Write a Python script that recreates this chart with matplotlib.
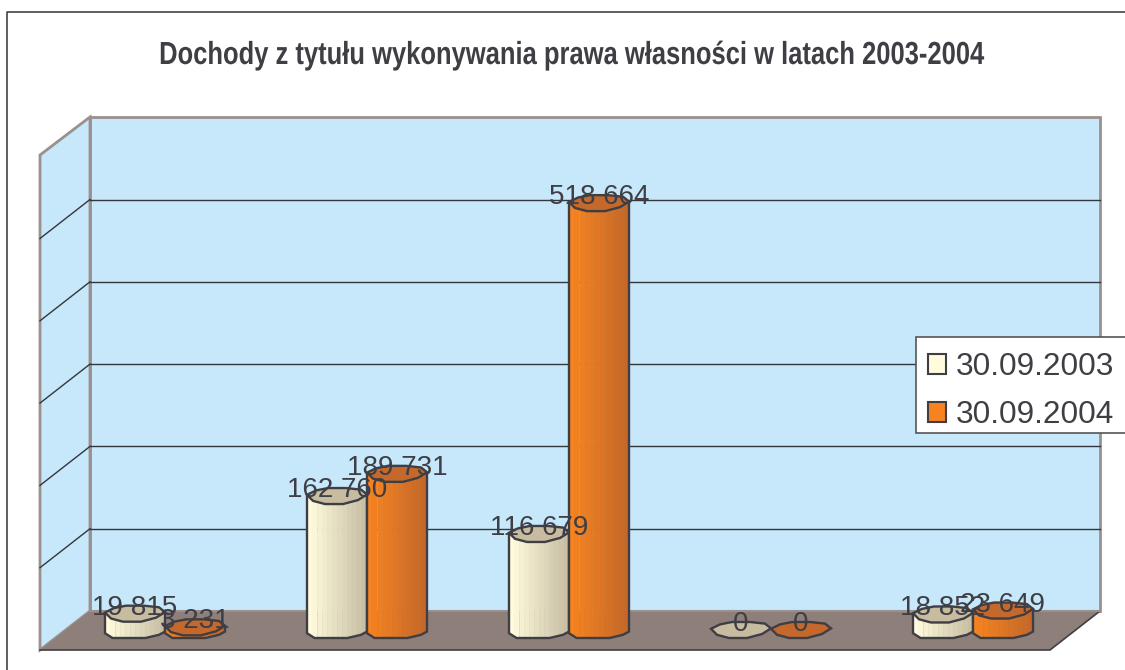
import numpy as np
import matplotlib
matplotlib.use('Agg')
import matplotlib.pyplot as plt
import matplotlib.patches as mpatches
import matplotlib.patheffects as pe
from matplotlib.transforms import Affine2D

title = 'Dochody z tytułu wykonywania prawa własności w latach 2003-2004'
series_names = ['30.09.2003', '30.09.2004']
values_2003 = [19815, 162760, 116679, 0, 18852]
values_2004 = [3231, 189731, 518664, 0, 23649]
labels_2003 = ['19 815', '162 760', '116 679', '0', '18 852']
labels_2004 = ['3 231', '189 731', '518 664', '0', '23 649']
grid_values = [100000, 200000, 300000, 400000, 500000]

# pixel layout of the fake 3d box
CAT_PX = 202.0
X0_PX = 165.0
Y0_PX = 630.0
PX_PER_UNIT = 0.000823
BAR_HALF = 30 / CAT_PX
ELL_H = 8 / PX_PER_UNIT

WALL = '#C6E8FA'
FLOOR = '#8E7F7B'
EDGE = '#9A908D'
INK = '#3E3E44'

# outline of the low-poly cylinders, unit coordinates
TOP_U = [-1, -0.8, -0.4, 0.2, 0.7, 1, 0.8, 0.3, -0.3, -0.7]
TOP_V = [0.15, -0.6, -1, -1, -0.5, 0.2, 0.8, 1, 1, 0.7]
BASE_U = [-1, -0.75, 0.35, 0.8, 1]
BASE_V = [-0.4, -1, -1, -0.6, -0.2]


def px_x(p):
    return (p - X0_PX) / CAT_PX


def px_y(p):
    return (Y0_PX - p) / PX_PER_UNIT


def poly(ax, pts, **kw):
    xy = [(px_x(a), px_y(b)) for a, b in pts]
    ax.add_patch(mpatches.Polygon(xy, closed=True, **kw))


def mix(c1, c2, t):
    a = np.array(matplotlib.colors.to_rgb(c1))
    b = np.array(matplotlib.colors.to_rgb(c2))
    return tuple(a + (b - a) * t)


class Squeeze(pe.AbstractPathEffect):
    # narrows the title, the original font is a condensed one
    def __init__(self, cx, fx):
        super().__init__()
        self.cx = cx
        self.fx = fx

    def draw_path(self, renderer, gc, tpath, affine, rgbFace=None):
        t = affine + Affine2D().translate(-self.cx, 0).scale(self.fx, 1).translate(self.cx, 0)
        renderer.draw_path(gc, tpath, t, rgbFace)


def cylinder(ax, xc, val, light, dark, top, z):
    n = 12
    u = np.linspace(-1, 1, n + 1)
    low = np.interp(u, BASE_U, BASE_V)
    xs = xc + u * BAR_HALF
    if val > 0:
        for i in range(n):
            col = mix(light, dark, i / (n - 1))
            q = [(xs[i], val), (xs[i + 1], val),
                 (xs[i + 1], low[i + 1] * ELL_H), (xs[i], low[i] * ELL_H)]
            ax.add_patch(mpatches.Polygon(q, closed=True, facecolor=col,
                                          edgecolor=col, lw=0.4, zorder=z))
        body_x = [xc - BAR_HALF] + [xc + a * BAR_HALF for a in BASE_U] + [xc + BAR_HALF]
        body_y = [val] + [b * ELL_H for b in BASE_V] + [val]
        ax.plot(body_x, body_y, color=INK, lw=1.7, zorder=z + 0.1)
    top_x = [xc + a * BAR_HALF for a in TOP_U]
    top_y = [val + b * ELL_H for b in TOP_V]
    ax.add_patch(mpatches.Polygon(np.column_stack([top_x, top_y]), closed=True,
                                  facecolor=top, edgecolor=INK, lw=1.7,
                                  zorder=z + 0.2))


fig = plt.figure(figsize=(11.25, 6.7), dpi=100)
ax = fig.add_axes([0, 0, 1, 1])
ax.set_xlim(px_x(0), px_x(1125))
ax.set_ylim(px_y(670), px_y(0))
ax.axis('off')

# box: back wall, side wall, floor
poly(ax, [(90, 117), (1100, 117), (1100, 611), (90, 611)], facecolor=WALL,
     edgecolor=EDGE, lw=2, zorder=1)
poly(ax, [(40, 155), (90, 117), (90, 611), (40, 650)], facecolor=WALL,
     edgecolor=EDGE, lw=2, zorder=1)
poly(ax, [(40, 650), (90, 611), (1100, 611), (1050, 650)], facecolor=FLOOR,
     edgecolor='none', zorder=1.5)
ax.plot([px_x(40), px_x(1050), px_x(1100)],
        [px_y(650), px_y(650), px_y(611)], color=INK, lw=1.2, zorder=1.6)
ax.plot([px_x(90), px_x(1100)], [px_y(611)] * 2, color=EDGE, lw=1.5, zorder=1.6)

# gridlines measured up from the back floor edge
back_shift = px_y(611)
side_shift = px_y(650)
for g in grid_values:
    ax.plot([px_x(90), px_x(1100)], [g + back_shift] * 2, color='#33363C', lw=1.0, zorder=1.2)
    ax.plot([px_x(40), px_x(90)], [g + side_shift, g + back_shift], color='#33363C', lw=1.0, zorder=1.2)

# outer border of the chart area
ax.plot([px_x(7), px_x(7), px_x(1125)], [px_y(670), px_y(12), px_y(12)],
        color='#444444', lw=1.2, zorder=1)

for i in range(len(values_2003)):
    cylinder(ax, i - BAR_HALF, values_2003[i], '#FFFBDC', '#C8BFA5', '#C8BCA0', 3 + i)
    cylinder(ax, i + BAR_HALF, values_2004[i], '#F6831F', '#C4692A', '#C4682B', 3.5 + i)

lab_off = 6 / PX_PER_UNIT
for i in range(len(values_2003)):
    ax.text(i - BAR_HALF, values_2003[i] + lab_off, labels_2003[i], ha='center', va='center',
            fontsize=20, family='Liberation Sans', color=INK, zorder=10)
    ax.text(i + BAR_HALF, values_2004[i] + lab_off, labels_2004[i], ha='center', va='center',
            fontsize=20, family='Liberation Sans', color=INK, zorder=10)

t = fig.text(572 / 1125, 1 - 56 / 670, title, ha='center', va='center', fontsize=23,
             fontweight='bold', family='Liberation Sans', color=INK)
t.set_path_effects([Squeeze(572, 0.80)])

# legend box runs off the right edge of the picture
poly(ax, [(916, 337), (1135, 337), (1135, 433), (916, 433)], facecolor='white',
     edgecolor='#555555', lw=1.2, zorder=19)

handles = [mpatches.Patch(facecolor='#FFFBDC', edgecolor=INK, lw=1.5, label=series_names[0]),
           mpatches.Patch(facecolor='#F6831F', edgecolor=INK, lw=1.5, label=series_names[1])]
leg = ax.legend(handles=handles, loc='upper left', bbox_to_anchor=(916 / 1125, 1 - 340 / 670),
                borderaxespad=0, frameon=False, labelcolor=INK,
                prop={'family': 'Liberation Sans', 'size': 22.7},
                handlelength=0.57, handleheight=0.57, handletextpad=0.32,
                labelspacing=0.58, borderpad=0.38)
leg.set_zorder(20)

plt.savefig('out.png', dpi=100)
plt.close()
